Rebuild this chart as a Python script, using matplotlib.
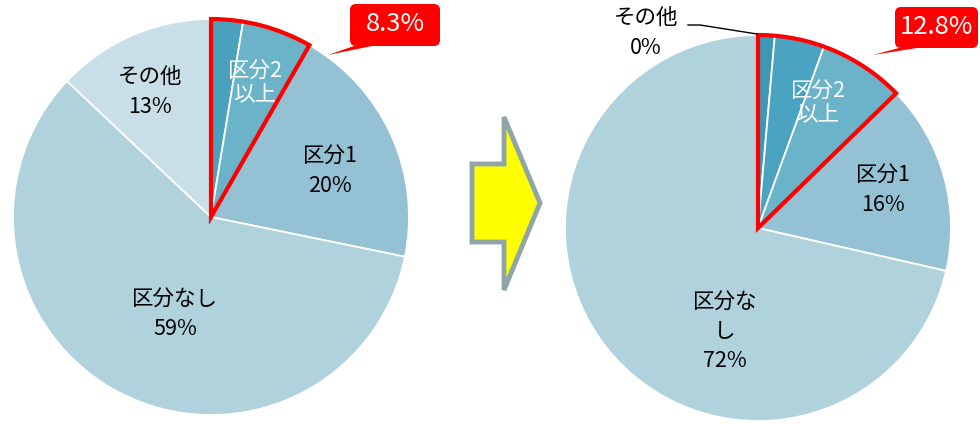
import matplotlib.pyplot as plt
from matplotlib.patches import Wedge, FancyBboxPatch, Polygon

plt.rcParams['font.family'] = ['Noto Sans CJK JP', 'DejaVu Sans']

# 区分2以上 は内訳ごとに小さい扇形に分けて描く
before_values = [2.6, 5.7, 20, 59, 13]
after_values = [1.4, 4.2, 7.2, 16, 72, 0]
before_total = 8.3
after_total = 12.8

before_colors = ['#4aa0bd', '#6bb3c9', '#94c2d4', '#b0d2dd', '#c9dfe7']
after_colors = ['#3f97b5', '#4aa3c0', '#6bb3c9', '#94c2d4', '#b0d2dd', '#c9dfe7']

W, H = 980, 424
fig = plt.figure(figsize=(W / 100, H / 100), dpi=100)
ax = fig.add_axes([0, 0, 1, 1])


def draw_pie(values, colors, center, radius, highlight):
    wedges, _ = ax.pie(values, colors=colors, startangle=90, counterclock=False,
                       center=center, radius=radius, normalize=True,
                       wedgeprops=dict(edgecolor='white', linewidth=1.3))
    # 区分2以上 の範囲を赤枠で囲む
    span = highlight / sum(values) * 360
    ax.add_patch(Wedge(center, radius, 90 - span, 90, fill=False,
                       edgecolor='#ff0000', linewidth=3, joinstyle='miter', zorder=5))
    return wedges


def callout(text, x0, x1, y0, y1, tip):
    ax.add_patch(Polygon([(x0 + 4, y0), (x0 + 22, y0), tip], closed=True,
                         facecolor='#ff0000', edgecolor='none', zorder=6))
    ax.add_patch(FancyBboxPatch((x0, y0), x1 - x0, y1 - y0,
                                boxstyle='round,pad=0,rounding_size=6',
                                facecolor='#ff0000', edgecolor='none', zorder=6))
    ax.text((x0 + x1) / 2, (y0 + y1) / 2 + 1, text, color='white', fontsize=18.5,
            ha='center', va='center', zorder=7)


lc = (211, H - 217)
rc = (758, H - 228)
draw_pie(before_values, before_colors, lc, 198, before_total)
draw_pie(after_values, after_colors, rc, 193, after_total)

ax.set_xlim(0, W)
ax.set_ylim(0, H)
ax.set_aspect('equal')
ax.axis('off')

lab = dict(fontsize=15.5, ha='center', va='center', linespacing=1.45, zorder=8)
inner = dict(fontsize=15.5, ha='center', va='center', linespacing=1.2, zorder=8)

# 左: 現状
ax.text(150, H - 92, 'その他\n13%', color='black', **lab)
ax.text(330, H - 171, '区分1\n20%', color='black', **lab)
ax.text(175, H - 314, '区分なし\n59%', color='black', **lab)
ax.text(255, H - 83, '区分2\n以上', color='white', **inner)
callout('8.3%', 350, 440, H - 46, H - 4, (328, H - 55))

# 右: 見直し後
ax.text(883, H - 190, '区分1\n16%', color='black', **lab)
ax.text(725, H - 331, '区分な\nし\n72%', color='black', **lab)
ax.text(818, H - 103, '区分2\n以上', color='white', **inner)
ax.text(646, H - 33, 'その他\n0%', color='black', **lab)
ax.plot([688, 700, 757], [H - 25, H - 25, H - 34], color='black', lw=1, zorder=8)
callout('12.8%', 895, 978, H - 48, H - 7, (873, H - 55))

# 中央の矢印
arrow = [(472, H - 164), (504, H - 164), (504, H - 117), (540, H - 203),
         (504, H - 290), (504, H - 242), (472, H - 242)]
ax.add_patch(Polygon(arrow, closed=True, facecolor='#ffff00',
                     edgecolor='#8fa5a8', linewidth=3.5, joinstyle='miter'))

fig.savefig('out.png', dpi=100, facecolor='white')
